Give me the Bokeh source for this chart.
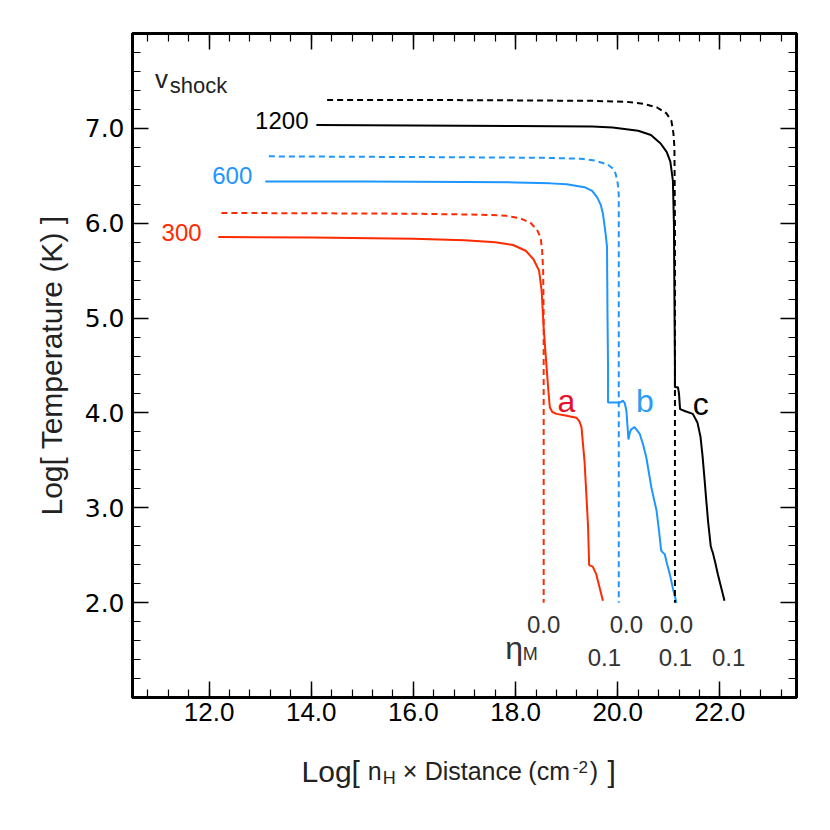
import numpy as np
from bokeh.plotting import figure
from bokeh.layouts import column
from bokeh.models import Label, LinearAxis, FixedTicker, PrintfTickFormatter, Range1d, CustomJSTickFormatter
from bokeh.embed import file_html
from bokeh.resources import INLINE

# ---------------- data ----------------
# v_shock = 300 km/s
red_dot_x = [12.24, 14.0, 16.0, 17.3, 17.81, 18.10, 18.30, 18.42, 18.49, 18.52, 18.54, 18.55, 18.55]
red_dot_y = [6.108, 6.105, 6.10, 6.09, 6.08, 6.05, 6.00, 5.93, 5.85, 5.71, 5.50, 5.00, 2.00]
red_sol_x = [12.18, 14.0, 16.0, 17.0, 17.6, 17.95, 18.20, 18.35, 18.46, 18.51, 18.55, 18.60, 18.64,
             18.67, 18.72, 18.80, 19.00, 19.19, 19.25, 19.29, 19.35, 19.39, 19.42, 19.44, 19.46,
             19.51, 19.58, 19.64, 19.71]
red_sol_y = [5.855, 5.85, 5.835, 5.82, 5.80, 5.77, 5.71, 5.62, 5.50, 5.29, 4.90, 4.53, 4.25,
             4.06, 4.01, 3.99, 3.97, 3.95, 3.91, 3.85, 3.49, 3.10, 2.79, 2.40, 2.39,
             2.38, 2.30, 2.17, 2.02]
# v_shock = 600 km/s
blue_dot_x = [13.17, 15.0, 17.0, 18.5, 19.28, 19.55, 19.80, 19.92, 19.96, 20.00, 20.02, 20.02]
blue_dot_y = [6.705, 6.70, 6.695, 6.69, 6.68, 6.66, 6.62, 6.57, 6.52, 6.42, 6.30, 2.00]
blue_sol_x = [13.10, 15.0, 17.0, 18.0, 18.68, 19.00, 19.35, 19.50, 19.60, 19.67, 19.71, 19.76,
              19.79, 19.80, 19.81, 19.81, 19.90, 20.05, 20.10, 20.14, 20.17, 20.21, 20.24, 20.27,
              20.33, 20.43, 20.50, 20.56, 20.66, 20.76, 20.81, 20.85, 20.88, 20.92, 20.97, 21.02,
              21.08, 21.15]
blue_sol_y = [6.44, 6.44, 6.435, 6.43, 6.42, 6.41, 6.38, 6.34, 6.27, 6.19, 6.10, 5.90,
              5.75, 5.00, 4.50, 4.11, 4.11, 4.11, 4.13, 4.10, 4.02, 3.72, 3.80, 3.83,
              3.85, 3.78, 3.66, 3.53, 3.21, 2.97, 2.75, 2.55, 2.53, 2.51, 2.40, 2.30,
              2.15, 2.00]
# v_shock = 1200 km/s
blk_dot_x = [14.31, 16.0, 18.0, 19.5, 20.17, 20.50, 20.77, 20.95, 21.05, 21.09, 21.11, 21.12, 21.12]
blk_dot_y = [7.30, 7.30, 7.295, 7.29, 7.28, 7.26, 7.22, 7.16, 7.08, 6.95, 6.80, 6.00, 2.00]
blk_sol_x = [14.10, 16.0, 18.0, 19.5, 19.9, 20.40, 20.65, 20.84, 20.96, 21.03, 21.08, 21.10,
             21.12, 21.12, 21.18, 21.20, 21.22, 21.31, 21.47, 21.56, 21.62, 21.66, 21.70,
             21.73, 21.77, 21.82, 21.84, 21.86, 21.91, 21.96, 22.03, 22.09]
blk_sol_y = [7.035, 7.03, 7.025, 7.02, 7.01, 6.975, 6.93, 6.84, 6.75, 6.65, 6.45, 6.00,
             4.50, 4.27, 4.27, 4.20, 4.04, 4.02, 3.99, 3.90, 3.75, 3.55, 3.30,
             3.10, 2.85, 2.60, 2.56, 2.53, 2.42, 2.30, 2.15, 2.02]

x_major_ticks = [12, 14, 16, 18, 20, 22]
y_major_ticks = [2, 3, 4, 5, 6, 7]
x_minor_ticks = [round(v, 1) for v in np.arange(10.8, 23.3, 0.4)]
y_minor_ticks = [round(v, 1) for v in np.arange(1.2, 7.9, 0.2)]

speed_labels = ["300", "600", "1200"]
eta_top_labels = ["0.0", "0.0", "0.0"]
eta_bot_labels = ["0.1", "0.1", "0.1"]
curve_letters = ["a", "b", "c"]

RED = "#ff2a00"
BLUE = "#1e96ff"
BLACK = "#000000"
GRAY = "#333333"

# ---------------- main figure ----------------
p = figure(frame_width=664, frame_height=664,
           x_range=Range1d(10.5, 23.5), y_range=Range1d(1.0, 8.0),
           output_backend="svg", toolbar_location=None,
           min_border_left=132, min_border_top=33, min_border_right=20, min_border_bottom=47)
p.grid.visible = False
p.outline_line_color = "black"
p.outline_line_width = 3
p.background_fill_color = "white"
p.border_fill_color = "white"

def style_axis(ax, ticks, minors, show, font, size):
    ax.ticker = FixedTicker(ticks=ticks, minor_ticks=minors)
    ax.major_tick_in = 16
    ax.major_tick_out = 0
    ax.minor_tick_in = 8
    ax.minor_tick_out = 0
    ax.major_tick_line_width = 1.5
    ax.minor_tick_line_width = 1.2
    ax.axis_line_width = 3
    ax.axis_line_color = "black"
    ax.major_tick_line_color = "black"
    ax.minor_tick_line_color = "black"
    ax.major_label_text_font = font
    if show:
        ax.formatter = PrintfTickFormatter(format="%.1f")
        ax.major_label_text_font_size = size
        ax.major_label_text_color = "black"
    else:
        ax.formatter = CustomJSTickFormatter(code="return ''")
        ax.major_label_text_color = None
        ax.major_label_standoff = 0

xb = p.xaxis[0]
yl = p.yaxis[0]
style_axis(xb, x_major_ticks, x_minor_ticks, True, "Liberation Sans", "26px")
style_axis(yl, y_major_ticks, y_minor_ticks, True, "DejaVu Sans", "25px")
xb.major_label_standoff = 5
yl.major_label_standoff = 8

yl.axis_label = "Log[ Temperature (K) ]"
yl.axis_label_text_font = "Liberation Sans"
yl.axis_label_text_font_size = "30px"
yl.axis_label_text_font_style = "normal"
yl.axis_label_text_color = "#222222"
yl.axis_label_standoff = 14

xa = LinearAxis()
style_axis(xa, x_major_ticks, x_minor_ticks, False, "Liberation Sans", "0px")
p.add_layout(xa, "above")
yr = LinearAxis()
style_axis(yr, y_major_ticks, y_minor_ticks, False, "DejaVu Sans", "0px")
p.add_layout(yr, "right")

# ---------------- curves ----------------
p.line(red_dot_x, red_dot_y, line_color=RED, line_width=2, line_dash="6 4")
p.line(red_sol_x, red_sol_y, line_color=RED, line_width=2)
p.line(blue_dot_x, blue_dot_y, line_color=BLUE, line_width=2, line_dash="6 4")
p.line(blue_sol_x, blue_sol_y, line_color=BLUE, line_width=2)
p.line(blk_dot_x, blk_dot_y, line_color=BLACK, line_width=2, line_dash="6 4")
p.line(blk_sol_x, blk_sol_y, line_color=BLACK, line_width=2)

def lab(fig, text, x, y, size, color, font="Liberation Sans", align="left", baseline="alphabetic"):
    fig.add_layout(Label(x=x, y=y, text=text, text_font=font, text_font_size=size,
                         text_color=color, text_align=align, text_baseline=baseline))

# v_shock
lab(p, "v", 10.94, 7.52, "26px", "#222222")
lab(p, "shock", 11.23, 7.45, "22px", "#222222")
# speed labels
lab(p, speed_labels[0], 11.07, 5.90, "24px", RED)
lab(p, speed_labels[1], 12.06, 6.50, "24px", BLUE)
lab(p, speed_labels[2], 12.90, 7.08, "24px", BLACK)
# letters
lab(p, curve_letters[0], 18.82, 4.125, "32px", "#e8102a")
lab(p, curve_letters[1], 20.36, 4.125, "32px", "#2a9df4")
lab(p, curve_letters[2], 21.47, 4.093, "32px", BLACK)
# eta labels
for t, xc in zip(eta_top_labels, [18.55, 20.17, 21.15]):
    lab(p, t, xc, 1.772, "24px", GRAY, align="center")
for t, xc in zip(eta_bot_labels, [19.74, 21.13, 22.17]):
    lab(p, t, xc, 1.42, "24px", GRAY, align="center")
lab(p, "\u03b7", 17.80, 1.518, "32px", GRAY)
lab(p, "M", 18.14, 1.456, "18px", GRAY)

# ---------------- x-axis label strip (same x scale) ----------------
p2 = figure(frame_width=664, frame_height=60,
            x_range=p.x_range, y_range=Range1d(0.0, 1.0),
            output_backend="svg", toolbar_location=None,
            min_border_left=132, min_border_right=20, min_border_top=0, min_border_bottom=0,
            x_axis_type=None, y_axis_type=None)
p2.grid.visible = False
p2.outline_line_color = None
p2.background_fill_color = "white"
p2.border_fill_color = "white"

XL = "#222222"
lab(p2, "Log[", 13.81, 0.555, "30px", XL)
lab(p2, "n", 15.106, 0.555, "25px", XL)
lab(p2, "H", 15.40, 0.438, "18px", XL)
lab(p2, "\u00d7", 15.79, 0.555, "25px", XL)
lab(p2, "Distance", 16.22, 0.555, "25px", XL)
lab(p2, "(cm", 18.25, 0.555, "25px", XL)
lab(p2, "-2", 19.12, 0.622, "17px", XL)
lab(p2, ")", 19.45, 0.555, "25px", XL)
lab(p2, "]", 19.80, 0.555, "30px", XL)

layout = column(p, p2, spacing=0)
open("out.html", "w").write(file_html(layout, INLINE))
